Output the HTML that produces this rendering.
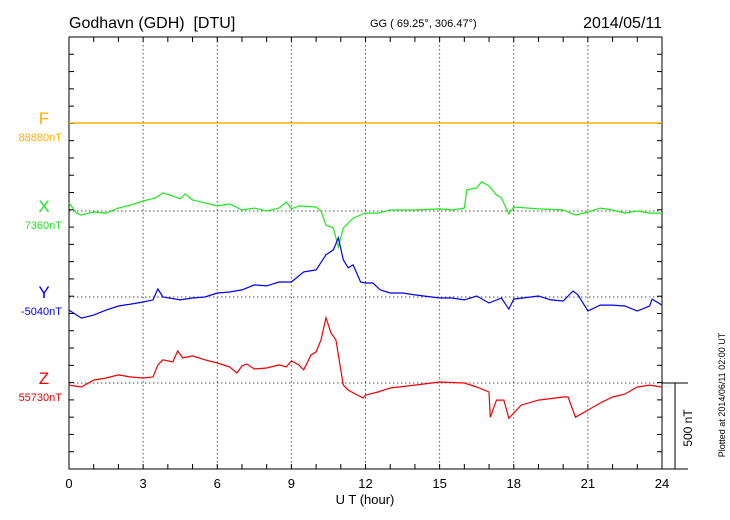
<!DOCTYPE html>
<html><head><meta charset="utf-8"><style>
body{margin:0;background:#fff}
svg{display:block;font-family:"Liberation Sans",sans-serif}
</style></head><body>
<svg id="c" width="730" height="520" viewBox="0 0 730 520" xmlns="http://www.w3.org/2000/svg">
<text x="69" y="28" font-size="16" style="white-space:pre">Godhavn (GDH)&#160;&#160;[DTU]</text>
<text x="370" y="27" font-size="11">GG ( 69.25°, 306.47°)</text>
<text x="662" y="28" font-size="16" text-anchor="end">2014/05/11</text>
<text x="365" y="504" font-size="13" text-anchor="middle">U T (hour)</text>
<text transform="translate(725,395) rotate(-90)" font-size="9" text-anchor="middle">Plotted at 2014/06/11 02:00 UT</text>
<text transform="translate(692,428) rotate(-90)" font-size="12" text-anchor="middle">500 nT</text>
<g id="g"></g>
</svg>
<script>
const xTicks=[0,3,6,9,12,15,18,21,24];
const fT=[0,24];const fV=[0,0];
const xT=[0,0.3,0.5,1,1.5,2,2.5,3,3.5,3.8,4.2,4.5,4.7,5,5.5,6,6.5,7,7.5,8,8.5,8.8,9,9.3,10,10.2,10.4,10.7,10.9,11.1,11.5,12,12.5,13,14,15,15.5,16,16.1,16.5,16.7,17,17.3,17.5,17.8,18,19,20,20.5,21,21.5,22,22.5,23,23.5,24];
const xV=[47,-12,-23,-6,-12,17,35,58,76,105,87,70,99,64,47,29,41,6,17,0,17,52,12,29,23,0,-81,-99,-209,-99,-41,-12,-12,6,6,12,6,17,122,134,169,145,93,76,-17,23,12,6,-23,-6,17,6,-12,0,-12,-12];
const yT=[0,0.5,1,1.5,2,2.5,3,3.4,3.6,3.8,4.5,5,5.5,6,6.5,7,7.5,8,8.5,9,9.5,10,10.4,10.7,10.9,11.1,11.3,11.5,11.8,12,12.3,12.6,13,13.5,14,15,15.5,16,16.5,17,17.5,17.8,18,19,19.5,20,20.4,20.6,21,21.5,22,22.5,23,23.5,23.6,24];
const yV=[-76,-122,-105,-76,-52,-41,-29,-17,47,0,-17,-6,0,23,29,41,70,64,87,87,145,157,244,273,343,215,169,186,87,81,81,41,23,23,12,-6,-6,-17,6,-35,-6,-70,-12,6,-17,-23,35,12,-81,-47,-47,-52,-81,-52,-12,-47];
const zT=[0,0.5,1,1.5,2,2.5,3,3.4,3.6,3.8,4.2,4.4,4.6,5,5.5,6,6.5,6.8,7,7.2,7.5,8,8.5,8.8,9,9.3,9.5,9.8,10,10.2,10.4,10.6,10.8,11,11.1,11.3,11.9,12,12.5,13,14,15,16,16.5,17,17.05,17.3,17.6,17.8,18.3,19,20,20.2,20.5,21,21.5,22,22.5,23,23.5,24];
const zV=[-12,-23,17,29,47,35,29,35,105,134,122,186,145,157,134,116,93,58,99,110,81,87,105,93,128,105,76,163,180,250,378,291,250,76,-12,-41,-87,-70,-52,-29,-12,6,0,-23,-52,-198,-99,-99,-204,-128,-99,-81,-81,-198,-157,-116,-81,-64,-23,-12,-23];
const L=69,R=662,T=37,B=469,S=0.1728;
const X=t=>L+(R-L)*t/24;
const ns="http://www.w3.org/2000/svg",g=document.getElementById('g');
function el(n,a){const e=document.createElementNS(ns,n);for(const k in a)e.setAttribute(k,a[k]);g.appendChild(e);return e;}
for(const t of xTicks.slice(1,-1)){const e=el('line',{x1:X(t),x2:X(t),y1:T,y2:B,stroke:'#555','stroke-dasharray':'1.5,2.5'});

}
const bases=[123,211,297,383];
for(const b of bases){const e=el('line',{x1:L,x2:R,y1:b,y2:b,stroke:'#555','stroke-dasharray':'1.5,2.5'});

}
const fr=el('rect',{x:L,y:T,width:R-L,height:B-T,fill:'none',stroke:'#000','stroke-width':1});


const ax=el('line',{x1:L,x2:688,y1:B,y2:B,stroke:'#000'});


for(let i=1;i<25;i++){const y=T+(B-T)*i/25;
el('line',{x1:L,x2:L+5,y1:y,y2:y,stroke:'#000'});
el('line',{x1:R-5,x2:R,y1:y,y2:y,stroke:'#000'});}
for(let h=1;h<24;h++){
el('line',{x1:X(h),x2:X(h),y1:T,y2:T+5,stroke:'#000'});
el('line',{x1:X(h),x2:X(h),y1:B-5,y2:B,stroke:'#000'});}
for(const t of xTicks){const e=el('text',{x:X(t),y:488,'font-size':13,'text-anchor':'middle'});e.textContent=t;

}
el('line',{x1:R,x2:688,y1:383,y2:383,stroke:'#000'});
el('line',{x1:675,x2:675,y1:383,y2:469,stroke:'#000'});
const ser=[['F',fT,fV,'#ffb000','88880nT'],['X',xT,xV,'#22e622','7360nT'],['Y',yT,yV,'#0000ee','-5040nT'],['Z',zT,zV,'#ee0000','55730nT']];
ser.forEach((s,i)=>{const b=bases[i];
const p=el('polyline',{points:s[1].map((t,j)=>X(t).toFixed(1)+','+(b-s[2][j]*S).toFixed(1)).join(' '),fill:'none',stroke:s[3],'stroke-width':i==0?1.5:1.2});


const a=el('text',{x:44,y:b+1,'font-size':17,fill:s[3],'text-anchor':'middle'});a.textContent=s[0];


const c=el('text',{x:62,y:b+18,'font-size':11,fill:s[3],'text-anchor':'end'});c.textContent=s[4];


});
</script>
</body></html>
